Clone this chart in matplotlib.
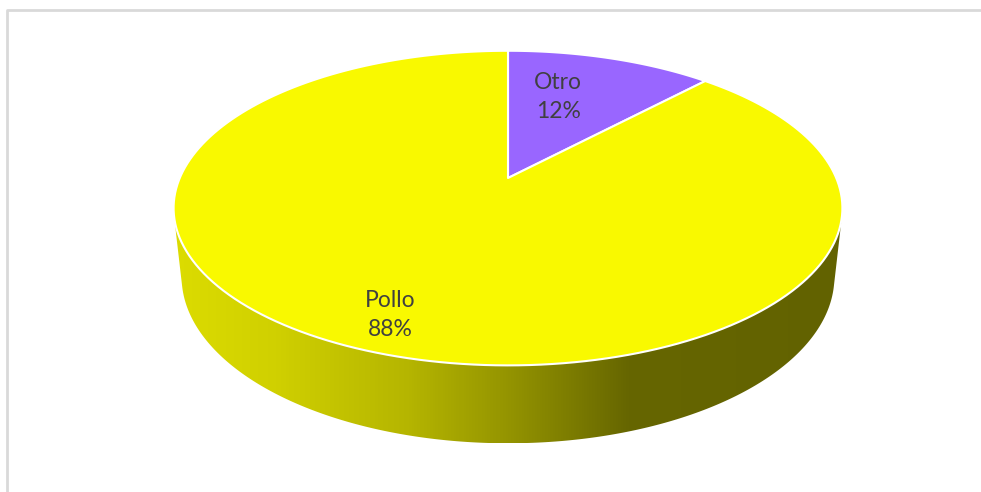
import numpy as np
import matplotlib
matplotlib.use("Agg")
import matplotlib.pyplot as plt
from matplotlib.patches import Polygon
from matplotlib.colors import LinearSegmentedColormap

labels = ["Otro", "Pollo"]
values = [12, 88]
top_colors = ["#9966ff", "#f9f900"]
label_r = [0.62, 0.83]
label_shift = [5.6, 0.0]  # degrees, nudges label toward 12 o'clock

# simple perspective camera for the 3D pie
cx, cy = 508, 178
F = 1523.0
D = 4.64
elev = np.radians(27.5)
h = 0.238


def proj(u, v, z):
    yc = v * np.sin(elev) + z * np.cos(elev)
    dc = D + v * np.cos(elev) - z * np.sin(elev)
    return cx + F * u / dc, cy - F * yc / dc


fig = plt.figure(figsize=(9.81, 4.92), dpi=100)
ax = fig.add_axes([0, 0, 1, 1])
ax.set_xlim(0, 981)
ax.set_ylim(492, 0)
ax.axis("off")

# chart frame (only top and left edges are inside the picture)
ax.plot([7, 7, 1000], [500, 10, 10], color="#d9d9d9", lw=2, zorder=0)

t = np.linspace(0, 2 * np.pi, 721)
tx, ty = proj(np.cos(t), np.sin(t), 0)
bx, by = proj(np.cos(t), np.sin(t), -h)

# side: convex hull of top + bottom ellipse, gradient fill
pts = np.column_stack([np.concatenate([tx, bx]), np.concatenate([ty, by])])


def hull(p):
    p = sorted(map(tuple, p))
    def half(seq):
        out = []
        for q in seq:
            while len(out) >= 2 and ((out[-1][0] - out[-2][0]) * (q[1] - out[-2][1])
                                     - (out[-1][1] - out[-2][1]) * (q[0] - out[-2][0])) <= 0:
                out.pop()
            out.append(q)
        return out
    lo = half(p)
    up = half(p[::-1])
    return np.array(lo[:-1] + up[:-1])


side = Polygon(hull(pts), closed=True, facecolor="none", edgecolor="none")
ax.add_patch(side)
cmap = LinearSegmentedColormap.from_list(
    "side", [(0.0, "#dcdc00"), (0.15, "#d0d000"), (0.35, "#b5b500"),
             (0.5, "#949400"), (0.68, "#666600"), (1.0, "#626200")])
grad = np.linspace(0, 1, 512).reshape(1, -1)
x0, x1 = pts[:, 0].min(), pts[:, 0].max()
img = ax.imshow(grad, cmap=cmap, extent=[x0, x1, pts[:, 1].max(), pts[:, 1].min()],
                aspect="auto", zorder=1)
img.set_clip_path(side)

# top face wedges, clockwise from 12 o'clock
start = 90.0
total = sum(values)
for lab, val, col, lr, ls in zip(labels, values, top_colors, label_r, label_shift):
    sweep = 360.0 * val / total
    a = np.radians(np.linspace(start, start - sweep, 200))
    wx, wy = proj(np.cos(a), np.sin(a), 0)
    px, py = proj(0, 0, 0)
    poly = np.column_stack([np.concatenate([[px], wx]), np.concatenate([[py], wy])])
    ax.add_patch(Polygon(poly, closed=True, facecolor=col, edgecolor="white",
                         lw=1.5, joinstyle="round", zorder=2))
    mid = np.radians(start - sweep / 2 + ls)
    lx, ly = proj(lr * np.cos(mid), lr * np.sin(mid), 0)
    ax.text(lx, ly, f"{lab}\n{val}%", ha="center", va="center", fontsize=16.5,
            color="#404040", family=["Lato", "DejaVu Sans"], linespacing=1.45, zorder=3)
    start -= sweep

fig.savefig("out.png", dpi=100)
